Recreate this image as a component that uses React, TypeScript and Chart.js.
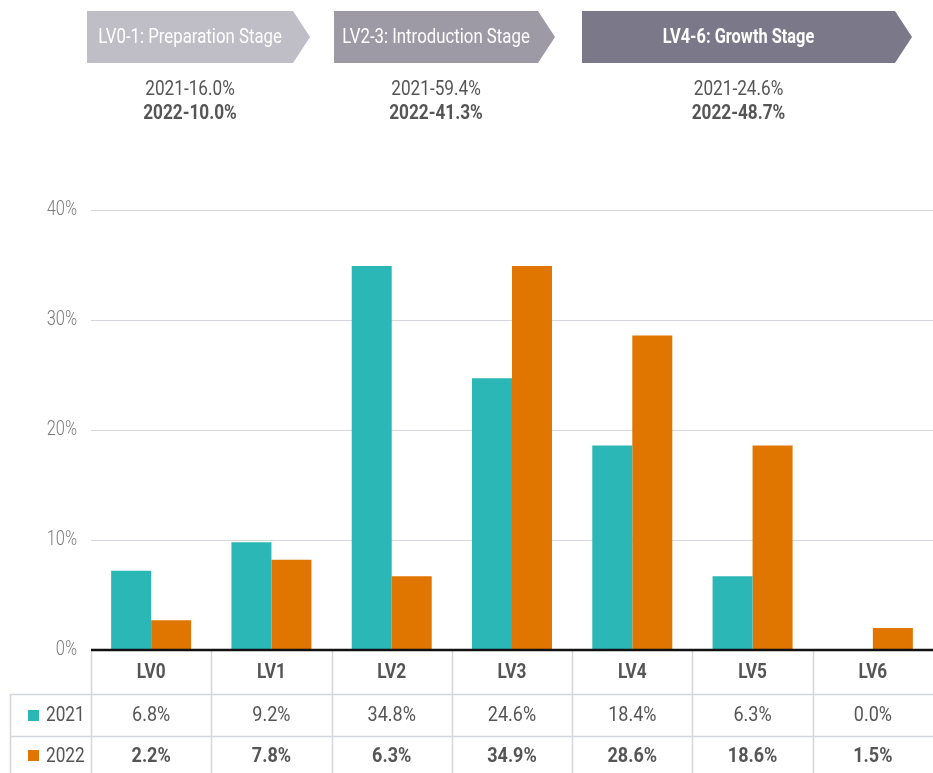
import React, { useEffect, useRef } from 'react';
import { Chart, registerables } from 'chart.js';

Chart.register(...registerables);

const categories = ['LV0', 'LV1', 'LV2', 'LV3', 'LV4', 'LV5', 'LV6'];
const seriesNames = ['2021', '2022'];
// bar heights as drawn in the picture (%)
const values2021 = [7.2, 9.8, 34.9, 24.7, 18.6, 6.7, 0];
const values2022 = [2.7, 8.2, 6.7, 34.9, 28.6, 18.6, 2.0];
// table texts
const table2021 = ['6.8%', '9.2%', '34.8%', '24.6%', '18.4%', '6.3%', '0.0%'];
const table2022 = ['2.2%', '7.8%', '6.3%', '34.9%', '28.6%', '18.6%', '1.5%'];
const stageLabels = ['LV0-1: Preparation Stage', 'LV2-3: Introduction Stage', 'LV4-6: Growth Stage'];
const stage2021 = ['2021-16.0%', '2021-59.4%', '2021-24.6%'];
const stage2022 = ['2022-10.0%', '2022-41.3%', '2022-48.7%'];
const yMax = 40;
const yStep = 10;

const FONT = "Roboto, 'DejaVu Sans Condensed', sans-serif";
const TEAL = '#2bb7b5';
const ORANGE = '#e07500';
const TEXT = '#555555';
const LINE = '#d3d6dc';

const banners = [
  { x0: 87, x1: 293, fill: '#bfbdc6', bold: false },
  { x0: 334, x1: 538, fill: '#9d9aa6', bold: false },
  { x0: 582, x1: 895, fill: '#7b7889', bold: true },
];

function txt(
  ctx: CanvasRenderingContext2D,
  s: string,
  x: number,
  y: number,
  size: number,
  weight: string,
  color: string,
  align: CanvasTextAlign = 'center',
  sx = 0.86
) {
  ctx.save();
  ctx.translate(x, y);
  ctx.scale(sx, 1);
  ctx.font = `${weight} ${size}px ${FONT}`;
  ctx.fillStyle = color;
  ctx.textAlign = align;
  ctx.textBaseline = 'middle';
  ctx.fillText(s, 0, 0);
  ctx.restore();
}

const overlay = {
  id: 'overlay',
  afterDraw(chart: any) {
    const ctx = chart.ctx as CanvasRenderingContext2D;
    const area = chart.chartArea;
    const yScale = chart.scales.y;
    const xScale = chart.scales.x;
    ctx.save();

    // banners
    const top = 11, bottom = 63, tip = 17;
    banners.forEach((b, i) => {
      ctx.beginPath();
      ctx.moveTo(b.x0, top);
      ctx.lineTo(b.x1, top);
      ctx.lineTo(b.x1 + tip, (top + bottom) / 2);
      ctx.lineTo(b.x1, bottom);
      ctx.lineTo(b.x0, bottom);
      ctx.closePath();
      ctx.fillStyle = b.fill;
      ctx.fill();
      const cx = (b.x0 + b.x1) / 2;
      txt(ctx, stageLabels[i], cx, (top + bottom) / 2 + 1, 20, b.bold ? '700' : '400', '#ffffff', 'center', b.bold ? 0.82 : 0.84);
      txt(ctx, stage2021[i], cx, 90, 20, '400', TEXT);
      txt(ctx, stage2022[i], cx, 114, 20, '700', TEXT);
    });

    // y tick labels
    yScale.ticks.forEach((t: any) => {
      txt(ctx, `${t.value}%`, 77, yScale.getPixelForValue(t.value), 20, '300', '#7a7a7a', 'right', 0.82);
    });

    // table
    const y0 = yScale.getPixelForValue(0);
    const n = categories.length;
    const colW = (area.right - area.left) / n;
    const rowTops = [y0, 694, 736, 778];
    const tableLeft = 10;
    ctx.strokeStyle = LINE;
    ctx.lineWidth = 1.5;
    for (let i = 0; i < n; i++) {
      const x = Math.round(area.left + i * colW) + 0.5;
      ctx.beginPath();
      ctx.moveTo(x, y0);
      ctx.lineTo(x, chart.height);
      ctx.stroke();
    }
    ctx.beginPath();
    ctx.moveTo(tableLeft + 0.5, rowTops[1]);
    ctx.lineTo(tableLeft + 0.5, chart.height);
    ctx.stroke();
    [rowTops[1], rowTops[2]].forEach((y) => {
      ctx.beginPath();
      ctx.moveTo(tableLeft, y + 0.5);
      ctx.lineTo(area.right, y + 0.5);
      ctx.stroke();
    });

    categories.forEach((c, i) => {
      const cx = xScale.getPixelForValue(i);
      txt(ctx, c, cx, (rowTops[0] + rowTops[1]) / 2 + 1, 20, '700', TEXT);
      txt(ctx, table2021[i], cx, (rowTops[1] + rowTops[2]) / 2 + 1, 20, '400', TEXT, 'center', 0.9);
      txt(ctx, table2022[i], cx, (rowTops[2] + rowTops[3]) / 2, 20, '700', TEXT, 'center', 0.9);
    });

    // legend keys in table
    const keyColors = [TEAL, ORANGE];
    const rowMid = [(rowTops[1] + rowTops[2]) / 2, (rowTops[2] + rowTops[3]) / 2];
    seriesNames.forEach((s, i) => {
      ctx.fillStyle = keyColors[i];
      ctx.fillRect(28, rowMid[i] - 6 + (i === 1 ? -1 : 1), 11, 11);
      txt(ctx, s, 46, rowMid[i] + (i === 1 ? 0 : 1), 20, '400', TEXT, 'left');
    });

    // zero axis line
    ctx.strokeStyle = '#111111';
    ctx.lineWidth = 2.5;
    ctx.beginPath();
    ctx.moveTo(area.left, y0);
    ctx.lineTo(area.right, y0);
    ctx.stroke();

    ctx.restore();
  },
};

export default function App() {
  const ref = useRef<HTMLCanvasElement>(null);
  useEffect(() => {
    document.body.style.margin = '0';
    const chart = new Chart(ref.current as HTMLCanvasElement, {
      type: 'bar',
      data: {
        labels: categories,
        datasets: [
          { label: seriesNames[0], data: values2021, backgroundColor: TEAL, borderWidth: 0 },
          { label: seriesNames[1], data: values2022, backgroundColor: ORANGE, borderWidth: 0 },
        ],
      },
      options: {
        animation: false,
        responsive: false,
        maintainAspectRatio: false,
        layout: { padding: { top: 210, bottom: 123, left: 0, right: 0 } },
        plugins: { legend: { display: false }, tooltip: { enabled: false } },
        datasets: { bar: { categoryPercentage: 0.665, barPercentage: 1 } } as any,
        scales: {
          x: { type: 'category', display: false, offset: true },
          y: {
            min: 0,
            max: yMax,
            ticks: {
              stepSize: yStep,
              display: false,
            },
            border: { display: false },
            grid: {
              drawTicks: false,
              lineWidth: 1,
              color: (c: any) => (c.tick && c.tick.value === 0 ? 'rgba(0,0,0,0)' : '#d3d6dc'),
            },
            afterFit: (s: any) => {
              s.width = 91;
            },
          },
        },
      },
      plugins: [overlay],
    });
    return () => chart.destroy();
  }, []);
  return (
    <div style={{ position: 'absolute', left: 0, top: 0, width: 933, height: 773 }}>
      <canvas ref={ref} width={933} height={773} style={{ display: 'block' }} />
    </div>
  );
}
